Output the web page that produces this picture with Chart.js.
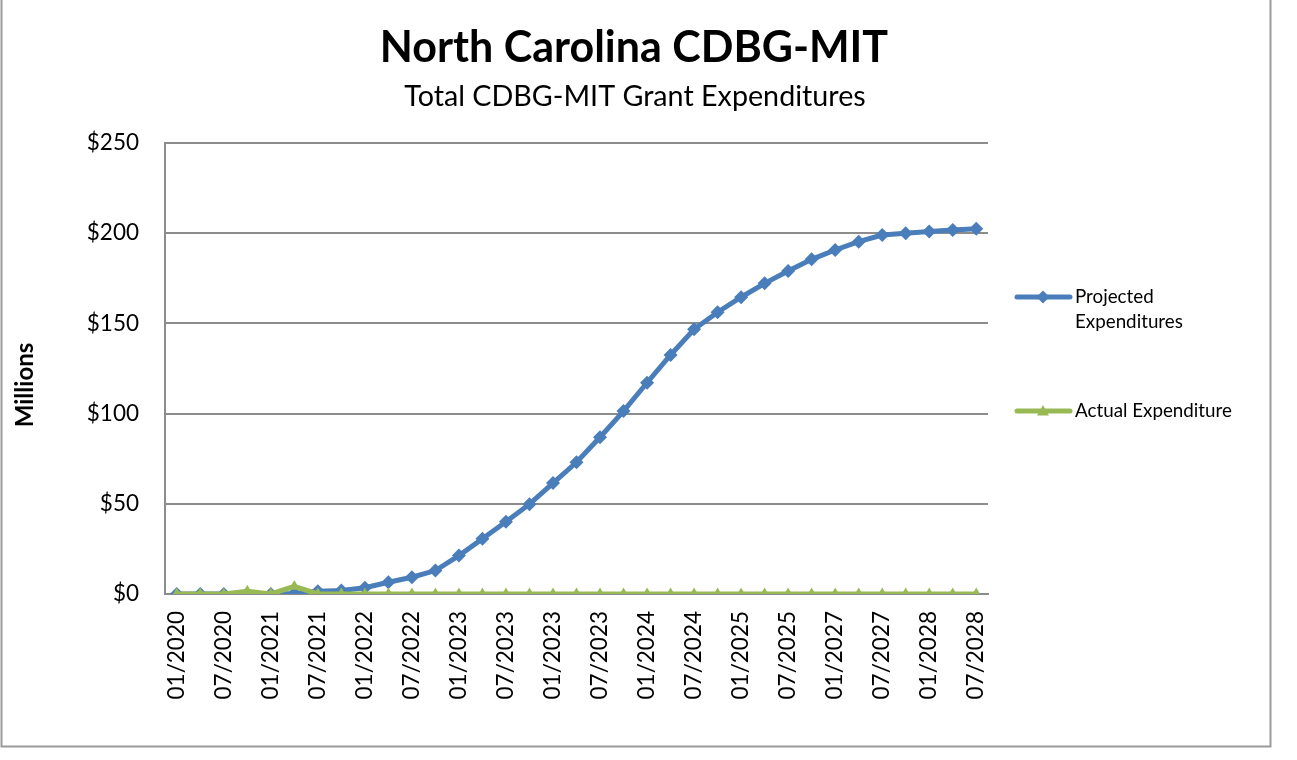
<!DOCTYPE html>
<html>
<head>
<meta charset="utf-8">
<script src="https://cdn.jsdelivr.net/npm/chart.js@4/dist/chart.umd.min.js"></script>
<style>
  html, body { margin: 0; padding: 0; background: #ffffff; }
  #wrap { width: 1297px; height: 760px; position: relative; }
</style>
</head>
<body>
<div id="wrap"><canvas id="c" width="1297" height="760"></canvas></div>
<script>
// ---- Data ----
const titleText = "North Carolina CDBG-MIT";
const subtitleText = "Total CDBG-MIT Grant Expenditures";
const yAxisTitle = "Millions";
const seriesNames = ["Projected Expenditures", "Actual Expenditure"];

// 35 points; a label is shown on every other point (as in the reference)
const tickLabels = ["01/2020","07/2020","01/2021","07/2021","01/2022","07/2022","01/2023","07/2023",
                    "01/2023","07/2023","01/2024","07/2024","01/2025","07/2025","01/2027","07/2027",
                    "01/2028","07/2028"];
const categories = ["01/2020","","07/2020","","01/2021","","07/2021","","01/2022","","07/2022","","01/2023","","07/2023","",
                    "01/2023","","07/2023","","01/2024","","07/2024","","01/2025","","07/2025","","01/2027","","07/2027","",
                    "01/2028","","07/2028"];

const projected = [0, 0, 0, 0, 0, 0.3, 1.5, 2, 3.5, 6.5, 9.3, 13, 21.3, 30.6, 40, 49.8, 61.5,
                   73, 86.9, 101.4, 117.1, 132.5, 146.7, 156.2, 164.5, 172.2, 179, 185.5, 190.7,
                   195.3, 199, 200, 200.9, 201.8, 202.5];
const actual = [0, 0, 0, 1.5, 0, 4.2, 0, 0, 0, 0, 0, 0, 0, 0, 0, 0, 0,
                0, 0, 0, 0, 0, 0, 0, 0, 0, 0, 0, 0, 0, 0, 0, 0, 0, 0];

const yTicks = [0, 50, 100, 150, 200, 250];

// ---- Styles ----
const BLUE = "#4A7EBB";
const GREEN = "#98B954";
const GRID = "#8C8C8C";
const FONT = "Lato, 'Open Sans', sans-serif";

const decorPlugin = {
  id: "decor",
  beforeDraw(chart) {
    const ctx = chart.ctx;
    ctx.save();
    ctx.fillStyle = "#ffffff";
    ctx.fillRect(0, 0, chart.width, chart.height);
    ctx.restore();
  },
  afterDraw(chart) {
    const ctx = chart.ctx;
    ctx.save();
    // outer border
    ctx.strokeStyle = "#9A9A9A";
    ctx.lineWidth = 2;
    ctx.beginPath();
    ctx.moveTo(1.5, 0);
    ctx.lineTo(1.5, 746.5);
    ctx.lineTo(1270.5, 746.5);
    ctx.lineTo(1270.5, 0);
    ctx.stroke();

    // titles
    ctx.fillStyle = "#000";
    ctx.textAlign = "center";
    ctx.textBaseline = "middle";
    ctx.font = "bold 43px " + FONT;
    ctx.fillText(titleText, 634, 48);
    ctx.font = "28.7px " + FONT;
    ctx.fillText(subtitleText, 635, 97);

    // y-axis title
    ctx.save();
    ctx.translate(25, 385);
    ctx.rotate(-Math.PI / 2);
    ctx.font = "bold 24px " + FONT;
    ctx.fillText(yAxisTitle, 0, 0);
    ctx.restore();

    // legend
    const items = [
      { color: BLUE, y: 297, lines: ["Projected", "Expenditures"], shape: "diamond" },
      { color: GREEN, y: 411, lines: ["Actual Expenditure"], shape: "triangle" }
    ];
    ctx.textAlign = "left";
    ctx.font = "18.8px " + FONT;
    items.forEach(it => {
      ctx.strokeStyle = it.color;
      ctx.lineWidth = 5;
      ctx.lineCap = "round";
      ctx.beginPath();
      ctx.moveTo(1017, it.y);
      ctx.lineTo(1070, it.y);
      ctx.stroke();
      ctx.fillStyle = it.color;
      ctx.beginPath();
      if (it.shape === "diamond") {
        ctx.moveTo(1043, it.y - 6.5); ctx.lineTo(1049.5, it.y); ctx.lineTo(1043, it.y + 6.5); ctx.lineTo(1036.5, it.y);
      } else {
        ctx.moveTo(1043, it.y - 6); ctx.lineTo(1049, it.y + 4.5); ctx.lineTo(1037, it.y + 4.5);
      }
      ctx.closePath();
      ctx.fill();
      ctx.fillStyle = "#000";
      it.lines.forEach((t, i) => ctx.fillText(t, 1075, it.y + i * 25));
    });
    ctx.restore();
  }
};

new Chart(document.getElementById("c"), {
  type: "line",
  data: {
    labels: categories,
    datasets: [
      {
        label: seriesNames[0],
        data: projected,
        borderColor: BLUE,
        backgroundColor: BLUE,
        borderWidth: 5,
        pointStyle: "rectRot",
        pointRadius: 7,
        pointBorderWidth: 0,
        pointBackgroundColor: BLUE,
        tension: 0,
        order: 1
      },
      {
        label: seriesNames[1],
        data: actual,
        borderColor: GREEN,
        backgroundColor: GREEN,
        borderWidth: 5,
        pointStyle: "triangle",
        pointRadius: 6.5,
        pointBorderWidth: 0,
        pointBackgroundColor: GREEN,
        tension: 0,
        order: 0
      }
    ]
  },
  options: {
    responsive: false,
    animation: false,
    devicePixelRatio: 1,
    layout: { padding: { left: 0, top: 143, right: 309, bottom: 0 } },
    plugins: {
      legend: { display: false },
      title: { display: false },
      tooltip: { enabled: false }
    },
    scales: {
      x: {
        offset: true,
        afterFit(scale) { scale.height = 166; },
        grid: { display: false, drawTicks: false },
        border: { display: true, color: GRID, width: 2 },
        ticks: {
          autoSkip: false,
          maxRotation: 90,
          minRotation: 90,
          padding: 17,
          color: "#000",
          font: { family: FONT, size: 22.5 },
          callback(value, index) {
            return index % 2 === 0 ? tickLabels[index / 2] : "";
          }
        }
      },
      y: {
        min: 0,
        max: 250,
        afterFit(scale) { scale.width = 165; },
        afterBuildTicks(scale) { scale.ticks = yTicks.map(v => ({ value: v })); },
        grid: { color: GRID, lineWidth: 2, drawTicks: false },
        border: { display: true, color: GRID, width: 2 },
        ticks: {
          padding: 26,
          color: "#000",
          font: { family: FONT, size: 22.5 },
          callback(v) { return "$" + v; }
        }
      }
    }
  },
  plugins: [decorPlugin]
});
</script>
</body>
</html>
